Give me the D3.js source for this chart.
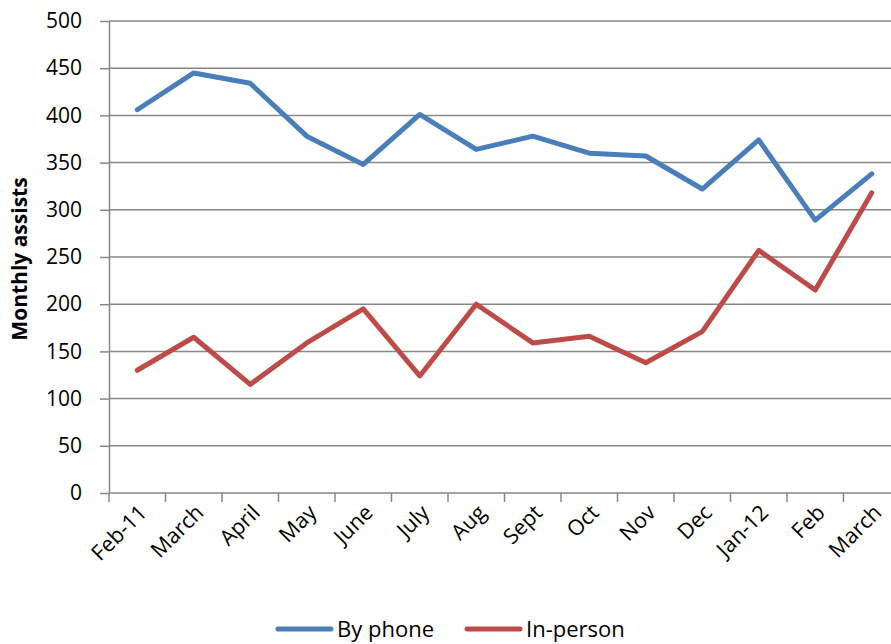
<!DOCTYPE html>
<html>
<head>
<meta charset="utf-8">
<script src="https://cdn.jsdelivr.net/npm/d3@7"></script>
<style>
  body { margin: 0; background: #fff; }
  svg text { font-family: "Open Sans", "Liberation Sans", sans-serif; fill: #000; }
</style>
</head>
<body>
<div id="chart"></div>
<script>
// data
var months = ["Feb-11","March","April","May","June","July","Aug","Sept","Oct","Nov","Dec","Jan-12","Feb","March "];
var byPhone = [406, 445, 434, 378, 348, 401, 364, 378, 360, 357, 322, 374, 289, 338];
var inPerson = [130, 165, 115, 159, 195, 124, 200, 159, 166, 138, 171, 257, 215, 318];
var yTicks = [0, 50, 100, 150, 200, 250, 300, 350, 400, 450, 500];
var seriesNames = ["By phone", "In-person"];
var seriesColors = ["#4A7EBB", "#BE4B48"];

var W = 891, H = 644;
var margin = {top: 21, left: 109, bottom: 151};
var plotW = 791, plotH = H - margin.top - margin.bottom;

var svg = d3.select("#chart").append("svg")
    .attr("width", W)
    .attr("height", H);

var g = svg.append("g").attr("transform", "translate(" + margin.left + "," + margin.top + ")");

var x = d3.scaleBand().domain(months).range([0, plotW]);
var y = d3.scaleLinear().domain([0, 500]).range([plotH, 0]);

// gridlines
g.selectAll(".grid")
    .data(yTicks.filter(function(d){ return d > 0; }))
    .enter().append("line")
    .attr("class", "grid")
    .attr("x1", 0).attr("x2", plotW)
    .attr("y1", function(d){ return y(d); })
    .attr("y2", function(d){ return y(d); })
    .style("stroke", "#878787")
    .style("stroke-width", 1.5);

// y axis
var yAxis = g.append("g")
    .call(d3.axisLeft(y).tickValues(yTicks).tickSize(9).tickSizeOuter(0).tickPadding(18));
yAxis.select(".domain").style("stroke", "#878787").style("stroke-width", 1.5);
yAxis.selectAll(".tick line").style("stroke", "#878787").style("stroke-width", 1.5);
yAxis.selectAll("text").style("font-size", "21px");

// x axis, ticks at category boundaries
var xAxisG = g.append("g").attr("transform", "translate(0," + plotH + ")");
xAxisG.append("line")
    .attr("x1", 0).attr("x2", plotW)
    .style("stroke", "#878787").style("stroke-width", 1.5);
xAxisG.selectAll(".xtick")
    .data(months)
    .enter().append("line")
    .attr("x1", function(d){ return x(d); })
    .attr("x2", function(d){ return x(d); })
    .attr("y1", 0).attr("y2", 9)
    .style("stroke", "#878787").style("stroke-width", 1.5);
xAxisG.selectAll(".xlabel")
    .data(months)
    .enter().append("text")
    .attr("text-anchor", "end")
    .attr("transform", function(d){
        return "translate(" + (x(d) + x.bandwidth() / 2 + 11) + ",21) rotate(-45)";
    })
    .style("font-size", "21.5px")
    .text(function(d){ return d.trim(); });

// lines
var line = d3.line()
    .x(function(d, i){ return x(months[i]) + x.bandwidth() / 2; })
    .y(function(d){ return y(d); });

[byPhone, inPerson].forEach(function(s, i){
    g.append("path")
        .datum(s)
        .attr("d", line)
        .style("fill", "none")
        .style("stroke", seriesColors[i])
        .style("stroke-width", 5)
        .style("stroke-linejoin", "round")
        .style("stroke-linecap", "round");
});

// y title
svg.append("text")
    .attr("transform", "translate(27," + (margin.top + plotH / 2 + 2) + ") rotate(-90)")
    .attr("text-anchor", "middle")
    .style("font-size", "21px")
    .style("font-weight", "bold")
    .text("Monthly assists");

// legend
var legendX = [278, 467];
var leg = svg.selectAll(".legend")
    .data(seriesNames)
    .enter().append("g")
    .attr("transform", function(d, i){ return "translate(" + legendX[i] + ",629)"; });
leg.append("line")
    .attr("x1", 0).attr("x2", 53)
    .style("stroke", function(d, i){ return seriesColors[i]; })
    .style("stroke-width", 5)
    .style("stroke-linecap", "round");
leg.append("text")
    .attr("x", 59).attr("y", 8)
    .style("font-size", "22px")
    .text(function(d){ return d; });
</script>
</body>
</html>
